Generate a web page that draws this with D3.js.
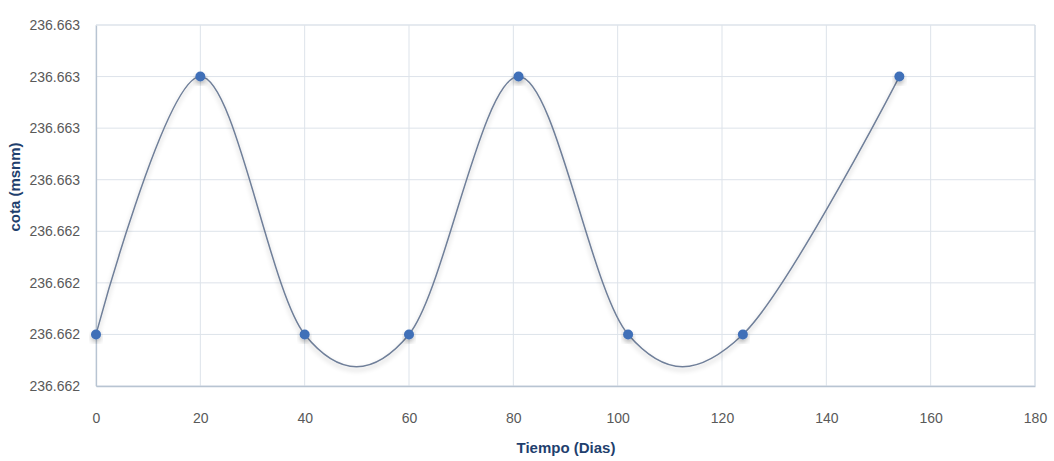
<!DOCTYPE html>
<html>
<head>
<meta charset="utf-8">
<script src="https://cdn.jsdelivr.net/npm/d3@7"></script>
<style>
html,body{margin:0;padding:0;background:#fff;}
svg{display:block;}
</style>
</head>
<body>
<svg id="chart" width="1054" height="461"></svg>
<script>
const days = [0, 20, 40, 60, 81, 102, 124, 154];
const cota = [236.6622, 236.6627, 236.6622, 236.6622, 236.6627, 236.6622, 236.6622, 236.6627];
const xTickValues = [0, 20, 40, 60, 80, 100, 120, 140, 160, 180];
const yTickValues = [236.6621, 236.6622, 236.6623, 236.6624, 236.6625, 236.6626, 236.6627, 236.6628];
const yTickLabels = ["236.662", "236.662", "236.662", "236.662", "236.663", "236.663", "236.663", "236.663"];

(function () {
const svg = d3.select("#chart");
const pL = 96, pR = 1035, pT = 25, pB = 386;
const x = d3.scaleLinear().domain([0, 180]).range([pL, pR]);
const y = d3.scaleLinear().domain([236.6621, 236.6628]).range([pB, pT]);
const font = "'Liberation Sans Narrow', 'Liberation Sans', Arial, sans-serif";

const defs = svg.append("defs");
const f = defs.append("filter").attr("id","sh").attr("x","-20%").attr("y","-20%").attr("width","140%").attr("height","160%");
f.append("feGaussianBlur").attr("in","SourceAlpha").attr("stdDeviation",2.5).attr("result","b");
f.append("feOffset").attr("in","b").attr("dy",3).attr("result","o");
f.append("feComponentTransfer").attr("in","o").attr("result","t").append("feFuncA").attr("type","linear").attr("slope",0.25);
const m = f.append("feMerge"); m.append("feMergeNode").attr("in","t"); m.append("feMergeNode").attr("in","SourceGraphic");

const grid = svg.append("g");
grid.selectAll("line.h").data(yTickValues).join("line")
  .attr("x1", pL).attr("x2", pR)
  .attr("y1", d => y(d)).attr("y2", d => y(d))
  .attr("stroke", "#dde3ea").attr("stroke-width", 1);
grid.selectAll("line.v").data(xTickValues).join("line")
  .attr("y1", pT).attr("y2", pB)
  .attr("x1", d => x(d)).attr("x2", d => x(d))
  .attr("stroke", "#dde3ea").attr("stroke-width", 1);

const xAxis = svg.append("g").attr("transform", `translate(0,${pB})`)
  .call(d3.axisBottom(x).tickValues(xTickValues).tickSize(0).tickPadding(27).tickFormat(d3.format("d")));
const yAxis = svg.append("g").attr("transform", `translate(${pL},0)`)
  .call(d3.axisLeft(y).tickValues(yTickValues).tickSize(0).tickPadding(16).tickFormat((d, i) => yTickLabels[i]));
[xAxis, yAxis].forEach(a => {
  a.select(".domain").attr("stroke", "#b8c4d2").attr("stroke-width", 1.3);
  a.selectAll("text").attr("fill", "#595959").style("font-family", font).style("font-size", "14px");
});

svg.append("line").attr("x1", pL).attr("x2", pR).attr("y1", pT).attr("y2", pT).attr("stroke", "#dde3ea");
svg.append("line").attr("x1", pR).attr("x2", pR).attr("y1", pT).attr("y2", pB).attr("stroke", "#d0d9e3");

const pts = days.map((d, i) => [d, cota[i]]);
const line = d3.line().x(d => x(d[0])).y(d => y(d[1])).curve(d3.curveCardinal.tension(0));
svg.append("path").datum(pts).attr("d", line)
  .attr("fill", "none").attr("stroke", "#6f7f99").attr("stroke-width", 1.5)
  .attr("filter", "url(#sh)");

svg.append("g").selectAll("circle").data(pts).join("circle")
  .attr("cx", d => x(d[0])).attr("cy", d => y(d[1])).attr("r", 5)
  .attr("fill", "#3f6fb8").attr("filter", "url(#sh)");

svg.append("text").attr("x", 566).attr("y", 453).attr("text-anchor", "middle")
  .attr("fill", "#1f3f6e").style("font-family", font).style("font-size", "15px").style("font-weight", "bold")
  .text("Tiempo (Dias)");
svg.append("text").attr("transform", "translate(20,187) rotate(-90)").attr("text-anchor", "middle")
  .attr("fill", "#1f3f6e").style("font-family", font).style("font-size", "15px").style("font-weight", "bold")
  .text("cota (msnm)");
})();
</script>
</body>
</html>
